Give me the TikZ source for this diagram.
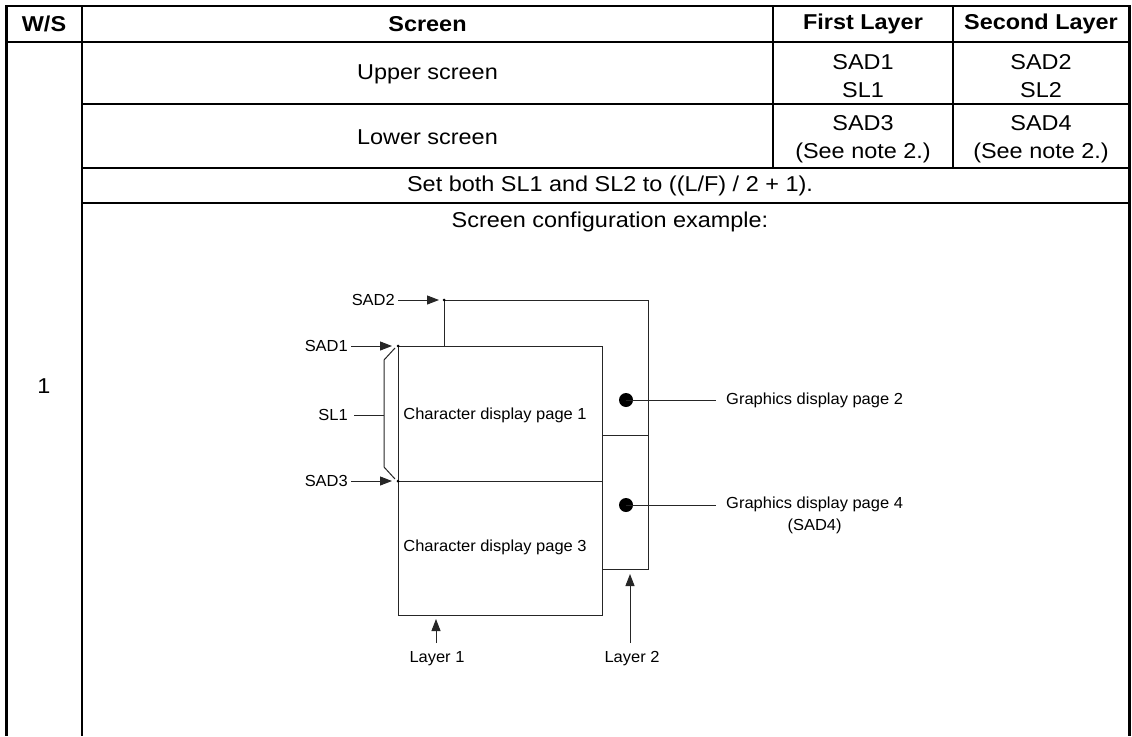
\documentclass[tikz,border=0pt]{standalone}
\usepackage{fontspec}
\setmainfont{Liberation Sans}[FakeStretch=1.09]
\newfontfamily\lblfont{Liberation Sans}[FakeStretch=1.03]
\usetikzlibrary{arrows.meta}
\begin{document}
\begin{tikzpicture}[x=1pt,y=-1pt,
  tbl/.style={font=\fontsize{21.5}{28}\selectfont, align=center, inner sep=0pt},
  hdr/.style={font=\fontsize{21.5}{26}\selectfont\bfseries, inner sep=0pt},
  lbl/.style={font=\lblfont\fontsize{16}{22}\selectfont, inner sep=0pt, align=center},
  rule/.style={line width=1.4pt},
  heavy/.style={line width=2.4pt},
  dline/.style={line width=1pt, draw=black!85},
  arr/.style={line width=1pt, draw=black!85, -{Triangle[length=12pt,width=9pt]}},
  pin/.style={circle, fill=black, inner sep=0pt, minimum size=3pt},
  bigdot/.style={circle, fill=black, inner sep=0pt, minimum size=14pt}]
\useasboundingbox (0,0) rectangle (1132,736);
% ---------- table frame ----------
\draw[rule] (6,6) -- (1130,6);
\draw[heavy] (6,42) -- (1130,42);
\draw[heavy] (6.5,5) -- (6.5,736);
\draw[heavy] (1129.5,5) -- (1129.5,736);
\draw[rule] (82,6) -- (82,736);
\draw[rule] (773,6) -- (773,168);
\draw[rule] (953,6) -- (953,168);
\draw[rule] (82,104) -- (1130,104);
\draw[rule] (82,168) -- (1130,168);
\draw[rule] (82,203) -- (1130,203);
% ---------- table texts ----------
\node[hdr] (hws) at (44,24) {W/S};
\node[hdr] (hscr) at (427.5,24) {Screen};
\node[hdr] (hfirst) at (863,24) {First Layer};
\node[hdr] (hsecond) at (1041,24) {Second Layer};
\node[tbl] (upper) at (427.5,74) {Upper screen};
\node[tbl] (uf) at (863,76) {SAD1\\SL1};
\node[tbl] (us) at (1041,76) {SAD2\\SL2};
\node[tbl] (lower) at (427.5,137) {Lower screen};
\node[tbl] (lf) at (863,139) {SAD3\\(See note 2.)};
\node[tbl] (ls) at (1041,139) {SAD4\\(See note 2.)};
\node[tbl] (setboth) at (610,186) {Set both SL1 and SL2 to ((L/F) / 2 + 1).};
\node[tbl] (example) at (610,222) {Screen configuration example:};
\node[tbl] (one) at (44,386) {1};
% ---------- diagram ----------
% layer 2 (behind)
\draw[dline] (444,346) -- (444,300) -- (648,300) -- (648,569) -- (602,569);
\draw[dline] (602,435) -- (648,435);
% layer 1
\draw[dline] (398,346) rectangle (602,615);
\draw[dline] (398,481) -- (602,481);
% points
\node[pin] (p2) at (444,300) {};
\node[pin] (p1) at (398,346) {};
\node[pin] (p3) at (398,481) {};
% address labels
\node[lbl, anchor=east] (sad2) at (395,300) {SAD2};
\node[lbl, anchor=east] (sad1) at (348,346) {SAD1};
\node[lbl, anchor=east] (sad3) at (348,481) {SAD3};
\node[lbl, anchor=east] (sl1) at (348,415) {SL1};
\draw[arr] (sad2.east) ++(3,0) -- ([xshift=-5pt]p2.center);
\draw[arr] (sad1.east) ++(3,0) -- ([xshift=-6pt]p1.center);
\draw[arr] (sad3.east) ++(3,0) -- ([xshift=-6pt]p3.center);
% SL1 bracket
\coordinate (b1) at (395,348);
\coordinate (b2) at (384,360);
\coordinate (b3) at (384,467);
\coordinate (b4) at (395,479);
\coordinate (bm) at (384,415);
\draw[dline] (b1) -- (b2) -- (b3) -- (b4);
\draw[dline] (sl1.east) ++(6,0) -- (bm);
% page texts
\node[lbl] (c1) at (495,415) {Character display page 1};
\node[lbl] (c3) at (495,547) {Character display page 3};
% graphics pages
\node[bigdot] (d2) at (626,400) {};
\node[bigdot] (d4) at (626,505) {};
\node[lbl, anchor=west] (g2) at (726,400) {Graphics display page 2};
\node[lbl, anchor=north west, align=center] (g4) at (726,497) {Graphics display page 4\\(SAD4)};
\draw[dline] (d2.center) -- (716,400);
\draw[dline] (d4.center) -- (716,505);
% layer labels
\node[lbl] (lay1) at (437,659) {Layer 1};
\node[lbl] (lay2) at (632,659) {Layer 2};
\draw[arr] (436,643) -- (436,619);
\draw[arr] (630,643) -- (630,574);
\end{tikzpicture}
\end{document}
